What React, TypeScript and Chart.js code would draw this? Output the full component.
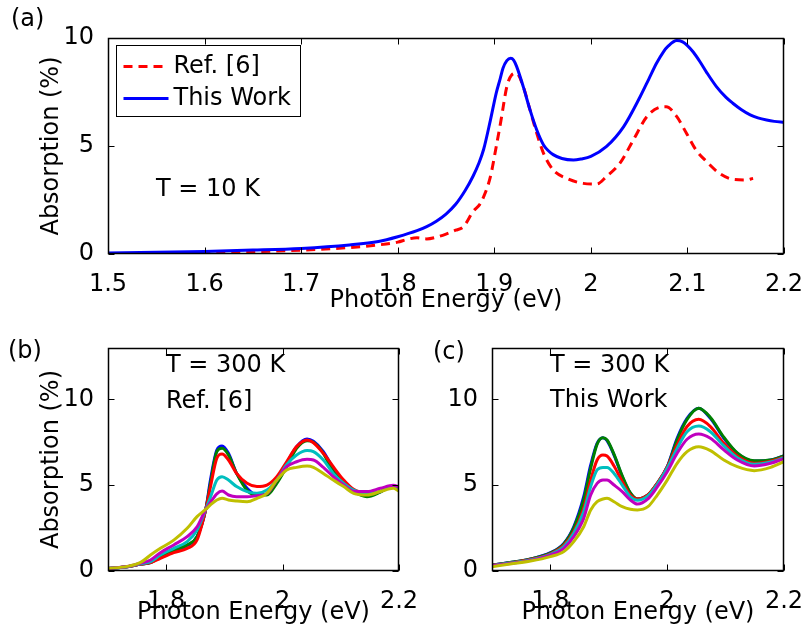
import React, { useEffect, useRef } from "react";
import { Chart, registerables } from "chart.js";

Chart.register(...registerables);

const FONT = "'DejaVu Sans', sans-serif";
const FS = 24;

// ---------- Panel (a): T = 10 K ----------
const aRefEnergy = [1.55, 1.6, 1.65, 1.7, 1.75, 1.78, 1.8, 1.81, 1.82, 1.83, 1.84, 1.85, 1.86, 1.868, 1.878, 1.885, 1.889, 1.896, 1.902, 1.907, 1.913, 1.918, 1.923, 1.93, 1.937, 1.944, 1.951, 1.961, 1.975, 1.992, 2.006, 2.016, 2.03, 2.044, 2.058, 2.071, 2.078, 2.089, 2.099, 2.109, 2.12, 2.133, 2.147, 2.161, 2.168];
const aRefAbs = [0.0, 0.05, 0.1, 0.18, 0.3, 0.42, 0.55, 0.68, 0.75, 0.7, 0.78, 0.92, 1.1, 1.26, 1.96, 2.3, 2.65, 3.58, 4.97, 6.2, 7.75, 8.29, 8.37, 7.75, 6.67, 5.59, 4.66, 3.89, 3.5, 3.27, 3.24, 3.58, 4.2, 5.28, 6.36, 6.79, 6.82, 6.36, 5.59, 4.81, 4.27, 3.74, 3.46, 3.43, 3.5];

const aWorkEnergy = [1.5, 1.55, 1.6, 1.65, 1.7, 1.75, 1.78, 1.8, 1.82, 1.83, 1.84, 1.85, 1.86, 1.87, 1.878, 1.884, 1.889, 1.896, 1.902, 1.906, 1.909, 1.913, 1.917, 1.92, 1.923, 1.93, 1.937, 1.944, 1.951, 1.956, 1.961, 1.97, 1.982, 1.99, 2.0, 2.016, 2.034, 2.051, 2.06, 2.068, 2.075, 2.08, 2.089, 2.095, 2.1, 2.106, 2.113, 2.12, 2.13, 2.14, 2.147, 2.156, 2.165, 2.173, 2.182, 2.19, 2.2];
const aWorkAbs = [0.05, 0.08, 0.12, 0.18, 0.26, 0.42, 0.58, 0.8, 1.08, 1.27, 1.52, 1.85, 2.3, 2.95, 3.6, 4.2, 4.85, 6.2, 7.45, 8.1, 8.6, 8.95, 9.06, 8.98, 8.7, 7.75, 6.67, 5.74, 5.05, 4.78, 4.6, 4.42, 4.35, 4.4, 4.52, 4.97, 5.9, 7.28, 8.1, 8.83, 9.35, 9.62, 9.88, 9.82, 9.65, 9.35, 8.9, 8.4, 7.75, 7.25, 6.98, 6.68, 6.44, 6.3, 6.2, 6.14, 6.1];

const aXTicks = [1.5, 1.6, 1.7, 1.8, 1.9, 2.0, 2.1, 2.2];
const aYTicks = [0, 5, 10];

// ---------- Panel (b): T = 300 K, Ref. [6] ----------
const bEnergy = [1.7, 1.733, 1.756, 1.773, 1.79, 1.813, 1.836, 1.853, 1.868, 1.876, 1.887, 1.896, 1.907, 1.921, 1.939, 1.956, 1.973, 1.99, 2.007, 2.024, 2.042, 2.053, 2.07, 2.087, 2.105, 2.122, 2.145, 2.168, 2.19, 2.2];
const bBlue = [0.15, 0.25, 0.4, 0.49, 0.84, 1.18, 1.48, 2.0, 3.6, 5.3, 7.05, 7.29, 6.86, 5.69, 4.82, 4.43, 4.5, 5.2, 6.28, 7.25, 7.7, 7.56, 6.96, 5.99, 5.21, 4.72, 4.4, 4.63, 4.96, 4.85];
const bGreen = [0.15, 0.25, 0.4, 0.49, 0.84, 1.22, 1.52, 2.0, 3.6, 5.1, 6.96, 7.15, 6.76, 5.69, 4.7, 4.43, 4.43, 5.11, 6.08, 7.15, 7.6, 7.5, 6.86, 5.79, 5.11, 4.63, 4.33, 4.6, 4.96, 4.82];
const bRed = [0.15, 0.25, 0.4, 0.49, 0.74, 1.07, 1.32, 1.81, 3.6, 4.9, 6.57, 6.82, 6.47, 5.69, 5.11, 4.92, 5.01, 5.5, 6.37, 7.25, 7.64, 7.48, 6.86, 6.08, 5.3, 4.76, 4.55, 4.63, 4.96, 4.82];
const bCyan = [0.15, 0.25, 0.42, 0.54, 0.93, 1.32, 1.71, 2.39, 3.6, 4.3, 5.3, 5.5, 5.3, 4.92, 4.63, 4.53, 4.72, 5.3, 6.2, 6.76, 7.02, 6.96, 6.47, 5.69, 5.11, 4.72, 4.55, 4.63, 4.96, 4.85];
const bMagenta = [0.15, 0.26, 0.45, 0.64, 1.07, 1.52, 2.0, 2.58, 3.6, 4.0, 4.5, 4.66, 4.43, 4.33, 4.33, 4.39, 4.5, 5.3, 6.08, 6.37, 6.51, 6.47, 6.04, 5.5, 5.01, 4.65, 4.63, 4.82, 5.0, 4.9];
const bYellow = [0.15, 0.27, 0.5, 0.93, 1.32, 1.8, 2.49, 3.17, 3.6, 3.85, 4.14, 4.24, 4.14, 4.08, 4.04, 4.24, 4.53, 5.3, 5.89, 6.04, 6.12, 6.04, 5.69, 5.3, 4.92, 4.53, 4.43, 4.63, 4.82, 4.66];

// ---------- Panel (c): T = 300 K, This Work ----------
const cEnergy = [1.7, 1.731, 1.766, 1.8, 1.823, 1.84, 1.857, 1.869, 1.88, 1.89, 1.897, 1.909, 1.923, 1.937, 1.949, 1.967, 1.983, 2.0, 2.017, 2.034, 2.054, 2.074, 2.097, 2.12, 2.149, 2.177, 2.2];
const cBlue = [0.35, 0.49, 0.7, 1.07, 1.61, 2.58, 4.33, 6.18, 7.44, 7.77, 7.6, 6.76, 5.5, 4.53, 4.2, 4.43, 5.11, 6.08, 7.74, 8.9, 9.49, 8.9, 7.74, 6.86, 6.41, 6.47, 6.71];
const cGreen = [0.35, 0.49, 0.7, 1.05, 1.58, 2.5, 4.14, 6.0, 7.4, 7.77, 7.64, 6.8, 5.55, 4.55, 4.2, 4.43, 5.11, 6.05, 7.65, 8.84, 9.49, 8.95, 7.8, 6.88, 6.42, 6.47, 6.71];
const cRed = [0.33, 0.47, 0.67, 1.0, 1.5, 2.29, 3.65, 5.3, 6.47, 6.76, 6.7, 6.12, 5.21, 4.43, 4.2, 4.43, 5.11, 6.05, 7.35, 8.42, 8.84, 8.42, 7.44, 6.7, 6.28, 6.4, 6.63];
const cCyan = [0.32, 0.46, 0.65, 0.97, 1.42, 2.2, 3.46, 4.92, 5.89, 6.04, 6.04, 5.69, 5.01, 4.33, 4.12, 4.38, 5.05, 5.99, 7.15, 8.12, 8.45, 8.12, 7.29, 6.6, 6.22, 6.35, 6.6];
const cMagenta = [0.3, 0.44, 0.62, 0.93, 1.32, 2.0, 3.07, 4.43, 5.11, 5.3, 5.3, 5.01, 4.63, 4.14, 3.9, 4.2, 4.9, 5.79, 6.86, 7.68, 7.99, 7.74, 7.06, 6.47, 6.12, 6.28, 6.55];
const cYellow = [0.25, 0.41, 0.58, 0.84, 1.13, 1.71, 2.58, 3.56, 4.04, 4.2, 4.24, 4.04, 3.75, 3.6, 3.56, 3.75, 4.43, 5.3, 6.28, 6.96, 7.25, 7.02, 6.47, 6.08, 5.85, 6.04, 6.37];

const bcXTicks = [1.8, 2.0, 2.2];
const bcYTicks = [0, 5, 10];

const seriesColors = ["#0000ff", "#008000", "#ff0000", "#00bfbf", "#bf00bf", "#bfbf00"];

const fmt = (v: number) => String(Number(v.toFixed(1)));
const pts = (xs: number[], ys: number[]) => xs.map((x, i) => ({ x, y: ys[i] }));

// Box + inward ticks (MATLAB style), drawn last
const framePlugin = {
  id: "frame",
  afterDraw(chart: any) {
    const { ctx, chartArea: a, scales } = chart;
    const tl = 6;
    const L = Math.round(a.left) + 0.5, R = Math.round(a.right) - 0.5;
    const T = Math.round(a.top) + 0.5, B = Math.round(a.bottom) - 0.5;
    ctx.save();
    ctx.setLineDash([]);
    ctx.strokeStyle = "#000000";
    ctx.lineWidth = 1.5;
    ctx.strokeRect(L, T, R - L, B - T);
    ctx.lineWidth = 1;
    ctx.beginPath();
    scales.x.ticks.forEach((t: any) => {
      const px = Math.round(scales.x.getPixelForValue(t.value)) + 0.5;
      ctx.moveTo(px, B); ctx.lineTo(px, B - tl);
      ctx.moveTo(px, T); ctx.lineTo(px, T + tl);
    });
    scales.y.ticks.forEach((t: any) => {
      const py = Math.round(scales.y.getPixelForValue(t.value)) + 0.5;
      ctx.moveTo(L, py); ctx.lineTo(L + tl, py);
      ctx.moveTo(R, py); ctx.lineTo(R - tl, py);
    });
    ctx.stroke();
    ctx.restore();
  },
};

// Free text annotations
const textPlugin = {
  id: "notes",
  afterDraw(chart: any, _args: any, opts: any) {
    const { ctx } = chart;
    ctx.save();
    ctx.fillStyle = "#000";
    ctx.font = `${FS}px ${FONT}`;
    ctx.textBaseline = "middle";
    ctx.textAlign = "left";
    (opts.items || []).forEach((it: any) => ctx.fillText(it.text, it.x, it.y));
    ctx.restore();
  },
};

// Boxed legend inside the plot (panel a)
const boxLegendPlugin = {
  id: "boxLegend",
  afterDraw(chart: any, _args: any, opts: any) {
    if (!opts || !opts.show) return;
    const { ctx, chartArea: a } = chart;
    const x0 = Math.round(a.left + opts.dx) + 0.5;
    const y0 = Math.round(a.top + opts.dy) + 0.5;
    ctx.save();
    ctx.fillStyle = "#fff";
    ctx.strokeStyle = "#000";
    ctx.lineWidth = 1;
    ctx.fillRect(x0, y0, opts.w, opts.h);
    ctx.strokeRect(x0, y0, opts.w, opts.h);
    ctx.font = `${FS}px ${FONT}`;
    ctx.textBaseline = "middle";
    ctx.textAlign = "left";
    chart.data.datasets.forEach((ds: any, i: number) => {
      const y = y0 + opts.rowY[i];
      ctx.beginPath();
      ctx.strokeStyle = ds.borderColor;
      ctx.lineWidth = ds.borderWidth;
      ctx.setLineDash(ds.borderDash || []);
      ctx.moveTo(x0 + opts.lineX0, y);
      ctx.lineTo(x0 + opts.lineX1, y);
      ctx.stroke();
      ctx.setLineDash([]);
      ctx.fillStyle = "#000";
      ctx.fillText(ds.label, x0 + opts.textX, y);
    });
    ctx.restore();
  },
};

const zeroPad = (s: any) => { s.paddingLeft = 0; s.paddingRight = 0; s.paddingTop = 0; s.paddingBottom = 0; };

function makeScales(xTicks: number[], yTicks: number[], xMin: number, xMax: number, yMax: number, yW: number, xH: number, yTitle: boolean, xTitlePad: number) {
  const font = { family: FONT, size: FS };
  return {
    x: {
      type: "linear",
      min: xMin,
      max: xMax,
      grid: { display: false },
      border: { display: false },
      afterBuildTicks: (s: any) => { s.ticks = xTicks.map((v) => ({ value: v })); },
      afterFit: (s: any) => { s.height = xH; zeroPad(s); },
      ticks: { font, color: "#000", padding: 8, maxRotation: 0, autoSkip: false, callback: (v: any) => fmt(Number(v)) },
      title: { display: true, text: "Photon Energy (eV)", font, color: "#000", padding: { top: 0, bottom: xTitlePad } },
    },
    y: {
      type: "linear",
      min: 0,
      max: yMax,
      grid: { display: false },
      border: { display: false },
      afterBuildTicks: (s: any) => { s.ticks = yTicks.map((v) => ({ value: v })); },
      afterFit: (s: any) => { s.width = yW; zeroPad(s); },
      ticks: { font, color: "#000", padding: 6, autoSkip: false, callback: (v: any) => fmt(Number(v)) },
      title: { display: yTitle, text: "Absorption (%)", font, color: "#000", padding: { top: 37, bottom: 0 } },
    },
  };
}

function multiDatasets(xs: number[], series: number[][]) {
  return series.map((ys, i) => ({
    label: `s${i}`,
    data: pts(xs, ys),
    borderColor: seriesColors[i],
    borderWidth: 3,
    pointRadius: 0,
    fill: false,
    cubicInterpolationMode: "monotone",
    borderJoinStyle: "round",
    order: series.length - i,
  }));
}

const configA = () => ({
  type: "line",
  data: {
    datasets: [
      { label: "Ref. [6]", data: pts(aRefEnergy, aRefAbs), borderColor: "#ff0000", borderWidth: 3, borderDash: [9, 6], pointRadius: 0, cubicInterpolationMode: "monotone", order: 2 },
      { label: "This Work", data: pts(aWorkEnergy, aWorkAbs), borderColor: "#0000ff", borderWidth: 3, pointRadius: 0, cubicInterpolationMode: "monotone", order: 1 },
    ],
  },
  options: {
    responsive: false,
    animation: false,
    devicePixelRatio: 1,
    layout: { padding: { left: 0, right: 22, top: 38, bottom: 0 } },
    scales: makeScales(aXTicks, aYTicks, 1.5, 2.2, 10, 108, 64, true, 2.6),
    plugins: {
      legend: { display: false },
      tooltip: { enabled: false },
      boxLegend: { show: true, dx: 8, dy: 7, w: 184, h: 71, rowY: [21, 53], lineX0: 7, lineX1: 52, textX: 57 },
      notes: { items: [{ text: "(a)", x: 11, y: 20 }, { text: "T = 10 K", x: 156, y: 190 }] },
    },
  },
  plugins: [boxLegendPlugin, textPlugin, framePlugin],
});

const configB = () => ({
  type: "line",
  data: { datasets: multiDatasets(bEnergy, [bBlue, bGreen, bRed, bCyan, bMagenta, bYellow]) },
  options: {
    responsive: false,
    animation: false,
    devicePixelRatio: 1,
    layout: { padding: { left: 0, right: 41, top: 30, bottom: 0 } },
    scales: makeScales(bcXTicks, bcYTicks, 1.7, 2.2, 13, 108, 65, true, 8.6),
    plugins: {
      legend: { display: false },
      tooltip: { enabled: false },
      notes: { items: [{ text: "(b)", x: 8, y: 34 }, { text: "T = 300 K", x: 166, y: 48 }, { text: "Ref. [6]", x: 166, y: 84 }] },
    },
  },
  plugins: [textPlugin, framePlugin],
});

const configC = () => ({
  type: "line",
  data: { datasets: multiDatasets(cEnergy, [cBlue, cGreen, cRed, cCyan, cMagenta, cYellow]) },
  options: {
    responsive: false,
    animation: false,
    devicePixelRatio: 1,
    layout: { padding: { left: 0, right: 22, top: 30, bottom: 0 } },
    scales: makeScales(bcXTicks, bcYTicks, 1.7, 2.2, 13, 89, 65, false, 8.6),
    plugins: {
      legend: { display: false },
      tooltip: { enabled: false },
      notes: { items: [{ text: "(c)", x: 30, y: 35 }, { text: "T = 300 K", x: 147, y: 48 }, { text: "This Work", x: 147, y: 83 }] },
    },
  },
  plugins: [textPlugin, framePlugin],
});

function Panel(props: { make: () => any; left: number; top: number; width: number; height: number }) {
  const ref = useRef<HTMLCanvasElement>(null);
  useEffect(() => {
    const chart = new Chart(ref.current as HTMLCanvasElement, props.make());
    return () => chart.destroy();
  }, []);
  return (
    <canvas
      ref={ref}
      width={props.width}
      height={props.height}
      style={{ position: "absolute", left: props.left, top: props.top, width: props.width, height: props.height, display: "block" }}
    />
  );
}

export default function App() {
  return (
    <div style={{ position: "fixed", left: 0, top: 0, width: 806, height: 636, background: "#fff", overflow: "hidden" }}>
      <Panel make={configA} left={0} top={0} width={806} height={318} />
      <Panel make={configB} left={0} top={318} width={440} height={318} />
      <Panel make={configC} left={403} top={318} width={403} height={318} />
    </div>
  );
}
